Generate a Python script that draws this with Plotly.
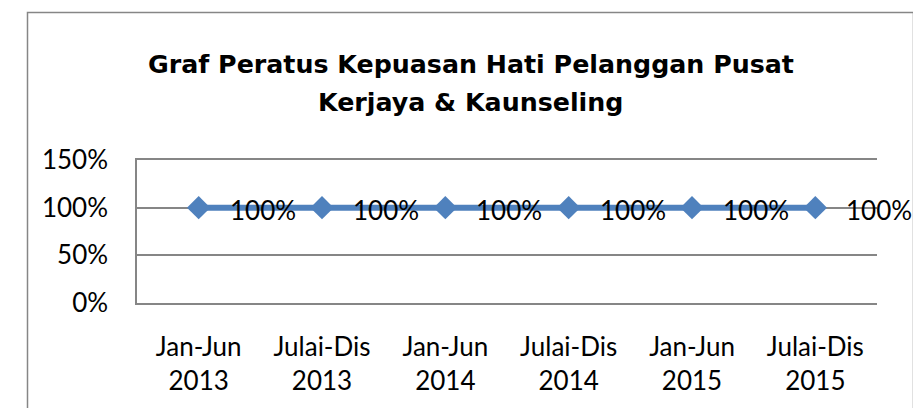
import plotly.graph_objects as go

categories = ["Jan-Jun<br>2013", "Julai-Dis<br>2013", "Jan-Jun<br>2014",
              "Julai-Dis<br>2014", "Jan-Jun<br>2015", "Julai-Dis<br>2015"]
values = [1.0, 1.0, 1.0, 1.0, 1.0, 1.0]
labels = ["100%", "100%", "100%", "100%", "100%", "100%"]
y_ticks = [0, 0.5, 1.0, 1.5]
y_tick_labels = ["0%", "50%", "100%", "150%"]
title_lines = ["Graf Peratus Kepuasan Hati Pelanggan Pusat", "Kerjaya &amp; Kaunseling"]

OFF = 8  # page body margin
W, H = 921 - OFF, 408 - OFF
L, T = 137 - OFF, 160 - OFF
R = 921 - 877
B = 408 - 306
pw = W - L - R
ph = H - T - B

fig = go.Figure()
fig.add_trace(go.Scatter(
    x=categories, y=values, mode="lines+markers",
    line=dict(color="#4F81BD", width=6),
    marker=dict(symbol="diamond", size=18, color="#4F81BD"),
    showlegend=False, cliponaxis=False,
))

for c, v, t in zip(categories, values, labels):
    fig.add_annotation(x=c, y=v, text=t, showarrow=False, xanchor="left",
                       yanchor="middle", xshift=29, yshift=-2,
                       font=dict(family="Lato", size=26, color="#000000"))

def px_x(p):
    return (p - OFF - L) / pw

def px_y(p):
    return (H - B - (p - OFF)) / ph

for line, ypx in zip(title_lines, [63, 101]):
    fig.add_annotation(xref="paper", yref="paper", x=px_x(470.5), y=px_y(ypx),
                       text="<b>" + line + "</b>", showarrow=False,
                       xanchor="center", yanchor="middle",
                       font=dict(family="DejaVu Sans", size=25.3, color="#000000"))

fig.add_shape(type="rect", xref="paper", yref="paper",
              x0=px_x(27.5), x1=px_x(913.5), y0=px_y(420), y1=px_y(9.5),
              line=dict(color="#868686", width=1.5), fillcolor="rgba(0,0,0,0)",
              layer="below")

fig.update_layout(
    width=W, height=H,
    margin=dict(l=L, r=R, t=T, b=B),
    paper_bgcolor="white", plot_bgcolor="white",
    xaxis=dict(
        type="category", showgrid=False, zeroline=False,
        showline=True, mirror=True, linecolor="#868686", linewidth=1.5,
        ticks="", ticklabelstandoff=20,
        tickfont=dict(family="Lato", size=26, color="#000000"),
        range=[-0.5, 5.5],
    ),
    yaxis=dict(
        range=[0, 1.5], tickvals=y_ticks, ticktext=y_tick_labels,
        showgrid=True, gridcolor="#868686", gridwidth=1.5,
        showline=True, linecolor="#868686", linewidth=1.5,
        zeroline=False, ticks="", ticklabelstandoff=22,
        tickfont=dict(family="Lato", size=26, color="#000000"),
    ),
)

fig.write_html("out.html")
